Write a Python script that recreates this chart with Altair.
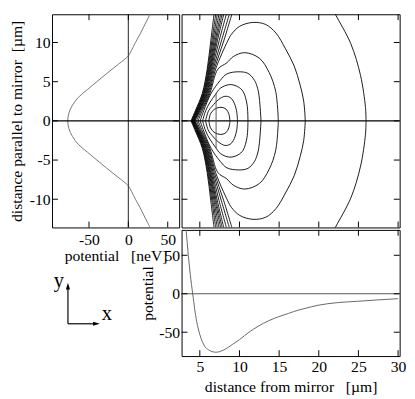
import altair as alt
import pandas as pd

FONT = "Liberation Serif"

# ---------------- data ----------------
# left panel: potential across the mirror at the trap minimum (upper half, symmetric)
cut_y = [0, 1, 2, 3, 4, 5, 6, 7, 8, 8.3, 9, 10, 11, 12, 13, 13.8]
cut_v = [-77, -75.5, -71, -63.5, -52, -40, -28, -15.5, -3, 0, 4, 9, 14.5, 19.5, 24.5, 28.5]

# bottom panel: potential vs distance from mirror
dist_x = [3.2, 3.27, 3.55, 3.8, 4.1, 4.6, 5.0, 5.6, 6.1, 6.65, 7.07, 7.9, 9.1, 10,
          11.2, 12.4, 13.7, 14.9, 16.2, 17.4, 18.3, 19.9, 22.4, 24.9, 27.3, 30]
dist_v = [90, 83, 50, 25, 0, -36, -53, -68, -73, -75.5, -76, -73.6, -66, -59.6,
          -50, -42, -35, -30, -25.5, -21.3, -19, -15, -11.5, -9.8, -8.1, -6.4]

# contour panel: open lines near the mirror (upper halves), x at each height
wedge_y = [0, 1.3, 3.5, 6.6, 10.2, 13.6]
wedge_x = [
    [3.89, 4.44, 5.31, 5.93, 6.38, 6.79],
    [3.94, 4.51, 5.38, 6.01, 6.52, 7.00],
    [4.00, 4.57, 5.46, 6.10, 6.65, 7.20],
    [4.05, 4.63, 5.53, 6.19, 6.79, 7.41],
    [4.11, 4.69, 5.60, 6.27, 6.93, 7.62],
    [4.16, 4.75, 5.68, 6.36, 7.06, 7.81],
    [4.22, 4.81, 5.77, 6.46, 7.21, 8.02],
    [4.27, 4.89, 5.85, 6.57, 7.43, 8.35],
    [4.33, 4.96, 5.94, 6.69, 7.72, 8.72],
    [4.38, 5.04, 6.04, 6.83, 8.02, 9.04],
]

# closed contours (upper halves)
L1_x = [6.14, 6.35, 6.8, 7.3, 7.8, 8.3, 8.65, 8.8]
L1_y = [0, 0.9, 1.45, 1.68, 1.72, 1.5, 0.9, 0]
L2_x = [5.72, 6.11, 6.54, 7.37, 8.15, 8.8, 9.22, 9.63, 9.75]
L2_y = [0, 1.3, 1.85, 2.72, 3.13, 3.0, 2.52, 1.3, 0]
L3_x = [5.35, 5.74, 6.3, 6.95, 7.57, 8.77, 9.8, 10.46, 10.95, 11.07]
L3_y = [0, 1.3, 2.4, 3.33, 4.15, 4.63, 4.35, 3.74, 2.11, 0]
L4_x = [5.04, 5.49, 6.42, 7.57, 8.4, 9.84, 11.07, 11.9, 12.3, 12.5, 12.72]
L4_y = [0, 1.3, 3.5, 5.16, 5.98, 6.26, 6.06, 5.16, 4.1, 2.93, 0]
L5_x = [4.78, 5.31, 6.27, 7.28, 8.4, 9.22, 10.66, 12.5, 13.74, 14.57, 14.9]
L5_y = [0, 1.3, 3.5, 6.6, 7.4, 8.2, 8.7, 8.0, 6.18, 3.74, 0]
L6_x = [4.57, 5.16, 6.15, 6.99, 8.52, 9.0, 10.04, 11.7, 13.3, 14.6, 15.8, 16.9, 17.65, 18.1, 18.3]
L6_y = [0, 1.3, 3.5, 6.6, 10.2, 11.06, 12.07, 12.56, 12.3, 11.2, 9.2, 7.0, 4.55, 2.5, 0]
L7_x = [22.0, 22.19, 24.04, 25.27, 25.89, 25.96]
L7_y = [13.8, 13.41, 9.84, 5.77, 1.71, 0]

cut_line_x = [7.05]
cut_line_y = [-3.5]
cut_line_y2 = [3.5]

left_xticks = [-50, 0, 50]
left_yticks = [-10, -5, 0, 5, 10]
dist_ticks = [5, 10, 15, 20, 25, 30]
pot_ticks = [-50, 0, 50]

# axis sketch (in its own little panel units)
sk_seg = ["y", "y", "x", "x"]
sk_u = [16.3, 16.3, 16.3, 43.0]
sk_v = [96, 59, 96, 96]
head_u = [16.3, 45.5]
head_v = [57.5, 96]
head_angle = [0, 90]
lab_u = [7, 56]
lab_v = [58.3, 92]
lab_t = ["y", "x"]

# ---------------- tables ----------------
left_df = pd.DataFrame({
    "y": [-y for y in reversed(cut_y)] + cut_y[1:],
    "v": list(reversed(cut_v)) + cut_v[1:],
})
left_df["k"] = range(len(left_df))

bottom_df = pd.DataFrame({"x": dist_x, "v": dist_v})

rows = []


def add_halves(cid, xs, ys):
    for k, (x, y) in enumerate(zip(xs, ys)):
        rows.append({"id": cid + "+", "k": k, "x": x, "y": y})
        rows.append({"id": cid + "-", "k": k, "x": x, "y": -y})


for i, xs in enumerate(wedge_x):
    add_halves("W%d" % i, xs, wedge_y)
for name, xs, ys in [("L1", L1_x, L1_y), ("L2", L2_x, L2_y), ("L3", L3_x, L3_y),
                     ("L4", L4_x, L4_y), ("L5", L5_x, L5_y), ("L6", L6_x, L6_y),
                     ("L7", L7_x, L7_y)]:
    add_halves(name, xs, ys)
contour_df = pd.DataFrame(rows)

# ---------------- sizes / scales / axes ----------------
W_L, W_R, H_T, H_B = 130, 223, 218, 129
TL = 6

sx_left = alt.Scale(domain=[-97, 64.5], nice=False, zero=False)
sy_left = alt.Scale(domain=[-13.6, 13.6], nice=False, zero=False)
sx_dist = alt.Scale(domain=[2.7, 30.2], nice=False, zero=False)
sy_pot = alt.Scale(domain=[-81, 83], nice=False, zero=False)

LBL = "toString(datum.value)"

ax_left_x = alt.Axis(values=left_xticks, title="potential\u00a0\u00a0\u00a0[neV]",
                     labelPadding=4, titlePadding=1, labelExpr=LBL)
ax_left_y = alt.Axis(values=left_yticks,
                     title="distance parallel to mirror\u00a0\u00a0[\u00b5m]",
                     labelPadding=2, titlePadding=5, labelExpr=LBL)
ax_dist_x = alt.Axis(values=dist_ticks, title="distance from mirror\u00a0\u00a0\u00a0[\u00b5m]",
                     labelPadding=3, titlePadding=4, labelExpr=LBL)
ax_pot_y = alt.Axis(values=pot_ticks, title="potential",
                    labelPadding=2, titlePadding=3, labelExpr=LBL)


def inner_ticks(xvals, yvals, xs, ys, xax, yax, W, H):
    out = []
    tx = pd.DataFrame({"t": xvals})
    for a, b in [(H, H - TL), (0, TL)]:
        out.append(alt.Chart(tx).mark_rule(color="black", strokeWidth=1).encode(
            x=alt.X("t:Q", scale=xs, axis=xax), y=alt.value(a), y2=alt.value(b)))
    ty = pd.DataFrame({"t": yvals})
    for a, b in [(0, TL), (W, W - TL)]:
        out.append(alt.Chart(ty).mark_rule(color="black", strokeWidth=1).encode(
            y=alt.Y("t:Q", scale=ys, axis=yax), x=alt.value(a), x2=alt.value(b)))
    return out


# ---------------- left panel ----------------
left_curve = alt.Chart(left_df).mark_line(
    color="#777", strokeWidth=1, clip=True, interpolate="catmull-rom").encode(
    x=alt.X("v:Q", scale=sx_left, axis=ax_left_x),
    y=alt.Y("y:Q", scale=sy_left, axis=ax_left_y),
    order="k:Q",
)
left_h0 = alt.Chart(pd.DataFrame({"y": [0]})).mark_rule(color="black", strokeWidth=1.5).encode(
    y=alt.Y("y:Q", scale=sy_left, axis=ax_left_y))
left_v0 = alt.Chart(pd.DataFrame({"v": [0]})).mark_rule(color="#444", strokeWidth=1.2).encode(
    x=alt.X("v:Q", scale=sx_left, axis=ax_left_x))
left_panel = alt.layer(
    left_curve, left_v0, left_h0,
    *inner_ticks(left_xticks, left_yticks, sx_left, sy_left, ax_left_x, ax_left_y, W_L, H_T)
).properties(width=W_L, height=H_T)

# ---------------- contour panel ----------------
contours = alt.Chart(contour_df).mark_line(
    color="black", strokeWidth=0.9, clip=True, interpolate="catmull-rom").encode(
    x=alt.X("x:Q", scale=sx_dist, axis=None),
    y=alt.Y("y:Q", scale=sy_left, axis=None),
    detail="id:N",
    order="k:Q",
)
c_h0 = alt.Chart(pd.DataFrame({"y": [0]})).mark_rule(color="black", strokeWidth=1.3).encode(
    y=alt.Y("y:Q", scale=sy_left, axis=None))
c_cut = alt.Chart(pd.DataFrame({"x": cut_line_x, "y": cut_line_y, "y2": cut_line_y2})).mark_rule(
    color="#555", strokeWidth=1).encode(
    x=alt.X("x:Q", scale=sx_dist, axis=None),
    y=alt.Y("y:Q", scale=sy_left, axis=None), y2="y2:Q")
contour_panel = alt.layer(
    contours, c_h0, c_cut,
    *inner_ticks(dist_ticks, left_yticks, sx_dist, sy_left, None, None, W_R, H_T)
).properties(width=W_R, height=H_T)

# ---------------- bottom panel ----------------
b_curve = alt.Chart(bottom_df).mark_line(
    color="#666", strokeWidth=1, clip=True, interpolate="monotone").encode(
    x=alt.X("x:Q", scale=sx_dist, axis=ax_dist_x),
    y=alt.Y("v:Q", scale=sy_pot, axis=ax_pot_y),
)
b_h0 = alt.Chart(pd.DataFrame({"v": [0]})).mark_rule(color="#555", strokeWidth=1).encode(
    y=alt.Y("v:Q", scale=sy_pot, axis=ax_pot_y))
bottom_panel = alt.layer(
    b_curve, b_h0,
    *inner_ticks(dist_ticks, pot_ticks, sx_dist, sy_pot, ax_dist_x, ax_pot_y, W_R, H_B)
).properties(width=W_R, height=H_B)

# ---------------- axis sketch ----------------
su = alt.Scale(domain=[0, W_L], nice=False, zero=False)
sv = alt.Scale(domain=[0, H_B], nice=False, zero=False, reverse=True)
sk_lines = alt.Chart(pd.DataFrame({"seg": sk_seg, "u": sk_u, "v": sk_v})).mark_line(
    color="black", strokeWidth=1.2).encode(
    x=alt.X("u:Q", scale=su, axis=None), y=alt.Y("v:Q", scale=sv, axis=None), detail="seg:N")
sk_heads = alt.Chart(pd.DataFrame({"u": head_u, "v": head_v, "a": head_angle})).mark_point(
    shape="M-0.6,1L0,-1L0.6,1Z", filled=True, color="black", size=49, opacity=1).encode(
    x=alt.X("u:Q", scale=su, axis=None), y=alt.Y("v:Q", scale=sv, axis=None),
    angle=alt.Angle("a:Q", scale=None))
sk_text = alt.Chart(pd.DataFrame({"u": lab_u, "v": lab_v, "t": lab_t})).mark_text(
    font=FONT, fontSize=21, baseline="alphabetic", align="center", color="black").encode(
    x=alt.X("u:Q", scale=su, axis=None), y=alt.Y("v:Q", scale=sv, axis=None), text="t:N")
sketch = alt.layer(sk_lines, sk_heads, sk_text).properties(
    width=W_L, height=H_B, view=alt.ViewBackground(stroke="transparent"))

# ---------------- layout ----------------
chart = alt.concat(
    left_panel, contour_panel, sketch, bottom_panel,
    columns=2, spacing=2.5, bounds="flush",
).properties(
    padding={"left": 0, "top": 0, "right": 0, "bottom": 0}, background="white"
).configure_axis(
    labelFont=FONT, titleFont=FONT, labelFontSize=16, titleFontSize=16,
    titleFontWeight="normal", labelColor="black", titleColor="black",
    domain=False, ticks=False, tickSize=0, grid=False,
    labelFlush=False, labelOverlap=False,
).configure_view(stroke="black", strokeWidth=1)

chart.save("out.html", embed_options={"renderer": "svg", "actions": False})
